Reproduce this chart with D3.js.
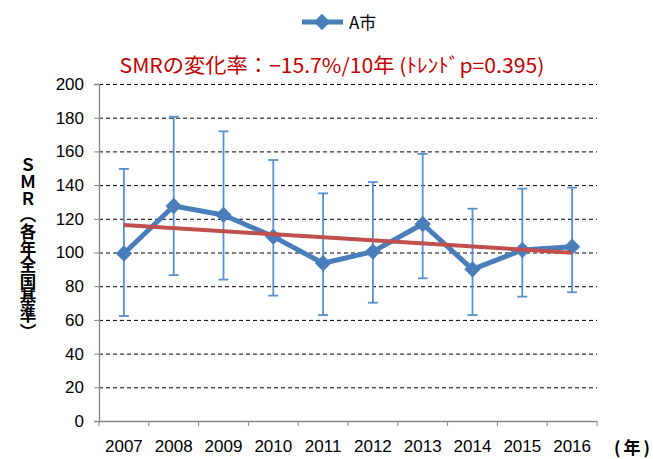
<!DOCTYPE html>
<html lang="ja">
<head>
<meta charset="UTF-8">
<title>SMR</title>
<script src="https://cdn.jsdelivr.net/npm/d3@7"></script>
<style>
    body { margin: 0; background: #fff; }
    #chart { position: relative; width: 653px; height: 459px; }
    svg { display: block; }
    .tick-label { font-family: "Liberation Sans", Arial, sans-serif; font-size: 17px; fill: #000; }
    .grid line { stroke: #000; stroke-width: 1; stroke-dasharray: 4,3; }
    .axis-line { stroke: #868686; stroke-width: 1.3; }
    .y-title {
        position: absolute;
        left: 19px;
        top: 157px;
        writing-mode: vertical-rl;
        text-orientation: upright;
        font-family: "Noto Sans CJK JP", sans-serif;
        font-weight: bold;
        font-size: 16.5px;
        line-height: 18px;
        letter-spacing: 0.1px;
        color: #000;
    }
</style>
</head>
<body>
<div id="chart"></div>
<script>
    const years = ["2007", "2008", "2009", "2010", "2011", "2012", "2013", "2014", "2015", "2016"];
    const smr = [99.4, 127.6, 122.3, 109.4, 93.6, 100.5, 116.9, 90.0, 101.5, 103.4];
    const ciUpper = [149.6, 180.6, 171.9, 154.9, 135.1, 141.8, 158.5, 126.0, 137.9, 138.5];
    const ciLower = [62.3, 86.6, 83.9, 74.4, 62.9, 70.2, 84.7, 62.9, 73.8, 76.4];
    const trendEnds = [116.3, 99.9];
    const yTicks = [0, 20, 40, 60, 80, 100, 120, 140, 160, 180, 200];
    const seriesName = "A市";
    const title = "SMRの変化率：−15.7%/10年 (ﾄﾚﾝﾄﾞp=0.395)";
    const yTitle = "ＳＭＲ（各年全国基準）";

    const W = 653, H = 459;
    const pLeft = 99, pRight = 597, pTop = 84, pBottom = 421;

    const svg = d3.select("#chart").append("svg")
        .attr("width", W).attr("height", H);

    const x = d3.scaleBand().domain(years).range([pLeft, pRight]);
    const y = d3.scaleLinear().domain([0, 200]).range([pBottom, pTop]);
    const cx = d => x(d) + x.bandwidth() / 2;

    // grid
    svg.append("g").attr("class", "grid")
        .selectAll("line")
        .data(yTicks.filter(t => t > 0))
        .enter().append("line")
        .attr("x1", pLeft).attr("x2", pRight)
        .attr("y1", d => y(d) + 0.5).attr("y2", d => y(d) + 0.5);

    // y axis
    const yAxis = svg.append("g")
        .attr("transform", "translate(" + pLeft + ",0)")
        .call(d3.axisLeft(y).tickValues(yTicks).tickSize(5).tickPadding(10));
    yAxis.select(".domain").attr("class", "axis-line").attr("fill", "none");
    yAxis.selectAll(".tick line").attr("stroke", "#868686");
    yAxis.selectAll(".tick text").attr("class", "tick-label");
    yAxis.attr("font-size", null).attr("font-family", null);

    // x axis
    const xAxis = svg.append("g")
        .attr("transform", "translate(0," + pBottom + ")")
        .call(d3.axisBottom(x).tickSize(0).tickPadding(19));
    xAxis.select(".domain").attr("class", "axis-line").attr("fill", "none").attr("d", "M" + pLeft + ",0.5H" + pRight);
    xAxis.selectAll(".tick text").attr("class", "tick-label");
    xAxis.attr("font-size", null).attr("font-family", null);
    xAxis.selectAll(".sep")
        .data(d3.range(years.length + 1))
        .enter().append("line")
        .attr("x1", i => pLeft + i * x.step()).attr("x2", i => pLeft + i * x.step())
        .attr("y1", 0).attr("y2", 5)
        .attr("stroke", "#868686");

    svg.append("text")
        .attr("x", 614).attr("y", 454)
        .attr("font-family", "'Noto Sans CJK JP', sans-serif")
        .attr("font-weight", "bold")
        .attr("font-size", 17)
        .attr("letter-spacing", 3)
        .text("(年)");

    // y title (vertical text)
    d3.select("#chart").append("div")
        .attr("class", "y-title")
        .text(yTitle);

    // error bars
    const eb = svg.append("g").attr("stroke", "#5B8FD0").attr("stroke-width", 1.8);
    years.forEach((yr, i) => {
        const xc = cx(yr);
        eb.append("line").attr("x1", xc).attr("x2", xc).attr("y1", y(ciUpper[i])).attr("y2", y(ciLower[i]));
        eb.append("line").attr("x1", xc - 5).attr("x2", xc + 5).attr("y1", y(ciUpper[i])).attr("y2", y(ciUpper[i]));
        eb.append("line").attr("x1", xc - 5).attr("x2", xc + 5).attr("y1", y(ciLower[i])).attr("y2", y(ciLower[i]));
    });

    // series line
    const line = d3.line().x((d, i) => cx(years[i])).y(d => y(d));
    svg.append("path")
        .datum(smr)
        .attr("d", line)
        .attr("fill", "none")
        .attr("stroke", "#4A7EBB")
        .attr("stroke-width", 5)
        .attr("stroke-linejoin", "round");

    const diamond = d3.symbol().type(d3.symbolDiamond2).size(170);
    svg.append("g").selectAll("path")
        .data(smr)
        .enter().append("path")
        .attr("d", diamond)
        .attr("transform", (d, i) => "translate(" + cx(years[i]) + "," + y(d) + ")")
        .attr("fill", "#4A7EBB");

    // trend line
    svg.append("line")
        .attr("x1", cx(years[0])).attr("y1", y(trendEnds[0]))
        .attr("x2", cx(years[years.length - 1])).attr("y2", y(trendEnds[1]))
        .attr("stroke", "#C0504D")
        .attr("stroke-width", 4);

    // title
    svg.append("text")
        .attr("x", 332).attr("y", 73)
        .attr("text-anchor", "middle")
        .attr("font-family", "'Noto Sans CJK JP', sans-serif")
        .attr("font-size", 20)
        .attr("fill", "#C00000")
        .attr("textLength", 425)
        .attr("lengthAdjust", "spacingAndGlyphs")
        .text(title);

    // legend
    const lg = svg.append("g");
    lg.append("line").attr("x1", 302).attr("x2", 343).attr("y1", 22).attr("y2", 22)
        .attr("stroke", "#4A7EBB").attr("stroke-width", 5);
    lg.append("path").attr("d", diamond).attr("transform", "translate(322,22)").attr("fill", "#4A7EBB");
    lg.append("text").attr("x", 349).attr("y", 29)
        .attr("font-family", "'Noto Sans CJK JP', sans-serif")
        .attr("font-size", 17)
        .text(seriesName);
</script>
</body>
</html>
